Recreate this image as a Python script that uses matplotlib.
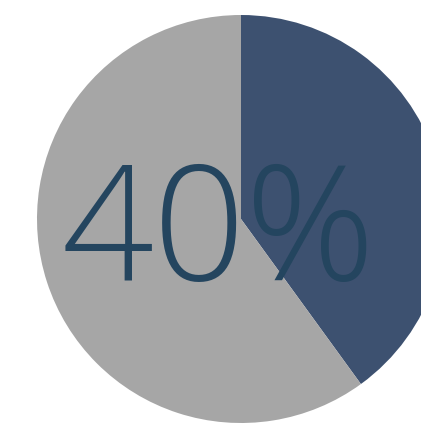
import matplotlib.pyplot as plt

# share shown in the pie
labels = ["Done", "Remaining"]
shares = [40, 60]
colors = ["#3d5170", "#a6a6a6"]
label_text = "40%"

W, H = 421, 430
fig = plt.figure(figsize=(W / 100, H / 100), dpi=100)
ax = fig.add_axes([0, 0, 1, 1])

ax.pie(shares, colors=colors, startangle=90, counterclock=False,
       center=(241, 211), radius=204,
       wedgeprops=dict(linewidth=0))

ax.text(219, 191, label_text, ha="center", va="center",
        fontsize=116, color="#24455f", family="Open Sans", fontweight=300)

ax.set_xlim(0, W)
ax.set_ylim(0, H)
ax.axis("off")

fig.savefig("out.png", dpi=100)
